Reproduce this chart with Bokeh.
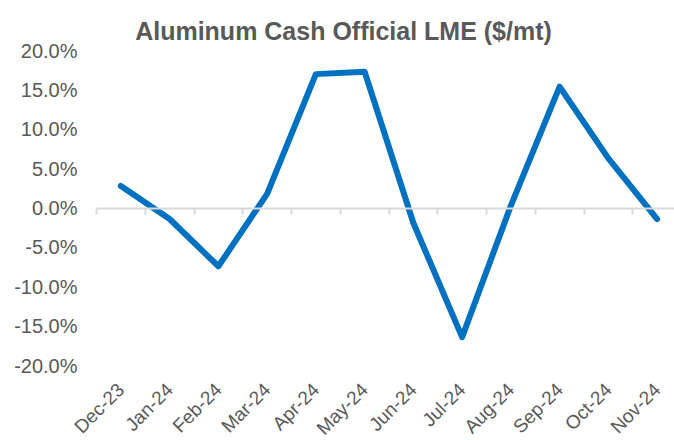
from math import pi
from bokeh.plotting import figure
from bokeh.models import (Range1d, FixedTicker, LinearAxis, NumeralTickFormatter, Label)
from bokeh.embed import file_html
from bokeh.resources import INLINE

# ---- data ----
months = ["Dec-23", "Jan-24", "Feb-24", "Mar-24", "Apr-24", "May-24",
          "Jun-24", "Jul-24", "Aug-24", "Sep-24", "Oct-24", "Nov-24"]
changes = [0.028, -0.014, -0.074, 0.018, 0.170, 0.173,
           -0.019, -0.164, 0.003, 0.154, 0.063, -0.014]
y_ticks = [-0.20, -0.15, -0.10, -0.05, 0.0, 0.05, 0.10, 0.15, 0.20]
title_text = "Aluminum Cash Official LME ($/mt)"

idx = list(range(len(months)))
boundaries = [i - 0.5 for i in range(len(months) + 1)]

# ---- layout (pixels) ----
W, H = 674, 440
PLOT_LEFT, CAT_W = 96, 48.75             # left edge of category axis, width per category
PLOT_TOP, PLOT_BOTTOM = 50, 365          # pixel rows of +20% and -20%
PY = (PLOT_BOTTOM - PLOT_TOP) / (y_ticks[-1] - y_ticks[0])
y_lo = y_ticks[0] - (H - PLOT_BOTTOM) / PY
y_hi = y_ticks[-1] + PLOT_TOP / PY
x_lo = boundaries[0] - PLOT_LEFT / CAT_W
x_hi = boundaries[0] + (W - PLOT_LEFT) / CAT_W
FONT = "Liberation Sans"
GREY = "#595959"

p = figure(width=W, height=H, output_backend="svg", toolbar_location=None,
           x_range=Range1d(x_lo, x_hi), y_range=Range1d(y_lo, y_hi),
           min_border_left=0, min_border_right=0, min_border_top=0,
           min_border_bottom=0)
p.outline_line_color = None
p.xgrid.visible = False
p.ygrid.visible = False
p.background_fill_color = "white"
p.border_fill_color = "white"

# y axis, pinned at the left edge of the category axis
ya = p.yaxis[0]
ya.fixed_location = boundaries[0]
ya.ticker = FixedTicker(ticks=y_ticks)
ya.formatter = NumeralTickFormatter(format="0.0%")
ya.axis_line_color = None
ya.major_tick_line_color = None
ya.minor_tick_line_color = None
ya.major_tick_out = 0
ya.major_tick_in = 0
ya.major_label_standoff = 19
ya.major_label_text_font = FONT
ya.major_label_text_font_size = "20px"
ya.major_label_text_color = GREY

# x axis labels, pinned at the -20% level
xa = p.xaxis[0]
xa.fixed_location = y_ticks[0]
xa.ticker = FixedTicker(ticks=idx)
xa.major_label_overrides = {i: m for i, m in zip(idx, months)}
xa.major_label_orientation = pi / 4
xa.axis_line_color = None
xa.major_tick_line_color = None
xa.minor_tick_line_color = None
xa.major_tick_out = 0
xa.major_tick_in = 0
xa.major_label_standoff = 21
xa.major_label_text_font = FONT
xa.major_label_text_font_size = "19px"
xa.major_label_text_color = GREY

# category axis line at zero with boundary ticks pointing down
zero_axis = LinearAxis(fixed_location=0, ticker=FixedTicker(ticks=boundaries),
                       bounds=(boundaries[0], boundaries[-1]))
zero_axis.axis_line_color = "#D9D9D9"
zero_axis.axis_line_width = 2
zero_axis.major_tick_line_color = "#D9D9D9"
zero_axis.major_tick_line_width = 2
zero_axis.major_tick_out = 0
zero_axis.major_tick_in = 6
zero_axis.minor_tick_line_color = None
zero_axis.major_label_standoff = 0
zero_axis.major_label_text_font_size = "0px"
zero_axis.major_label_text_alpha = 0
p.add_layout(zero_axis, "above")

p.line(idx, changes, line_width=6, line_color="#0070C0",
       line_cap="round", line_join="round")

title = Label(x=343, y=H - 30.5, x_units="screen", y_units="screen",
              text=title_text, text_align="center", text_baseline="alphabetic",
              text_font=FONT, text_font_size="25px",
              text_font_style="bold", text_color=GREY)
p.add_layout(title)

open("out.html", "w").write(file_html(p, INLINE))
